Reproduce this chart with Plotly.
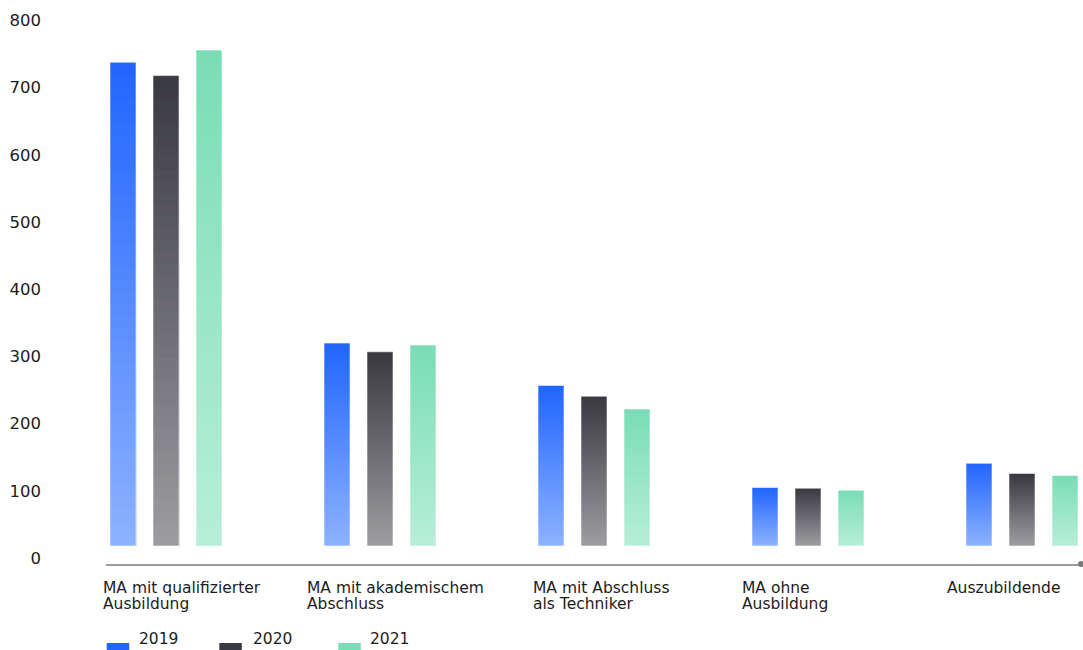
import plotly.graph_objects as go

# ---- data ----
categories = [
    "MA mit qualifizierter<br>Ausbildung",
    "MA mit akademischem<br>Abschluss",
    "MA mit Abschluss<br>als Techniker",
    "MA ohne<br>Ausbildung",
    "Auszubildende",
]
years = ["2019", "2020", "2021"]
values_2019 = [720, 302, 239, 87, 123]
values_2020 = [700, 289, 223, 86, 108]
values_2021 = [738, 299, 204, 83, 105]
y_ticks = [0, 100, 200, 300, 400, 500, 600, 700, 800]

# ---- style ----
FONT = "DejaVu Sans"
TEXT = "#1c1c1c"
top_colors = ["#2266FF", "#3A3A43", "#7ADDB6"]
bottom_colors = ["#8CB1FF", "#9C9BA0", "#B7EED9"]
N = 40                      # gradient steps per bar
px_per_cat = 214.0
bar_w = 26 / px_per_cat
bar_step = 43 / px_per_cat
first_off = -56 / px_per_cat
label_shift = [-63, -73, -61, -66, -75]


def hex2rgb(h):
    h = h.lstrip("#")
    return [int(h[i:i + 2], 16) for i in (0, 2, 4)]


def mix(c1, c2, t):
    a, b = hex2rgb(c1), hex2rgb(c2)
    return "rgb({},{},{})".format(*[round(a[i] + (b[i] - a[i]) * t) for i in range(3)])


series = [values_2019, values_2020, values_2021]
fig = go.Figure()
for j, (yr, vals) in enumerate(zip(years, series)):
    off = first_off + j * bar_step
    for k in range(N):
        frac = k / N
        col = mix(top_colors[j], bottom_colors[j], k / (N - 1))
        fig.add_bar(
            x=categories, y=[v * (1 - frac) for v in vals],
            offset=off, width=bar_w, name=yr,
            marker=dict(color=col, line=dict(width=0)),
            showlegend=False,
            hoverinfo="x+y+name" if k == 0 else "skip",
        )
    # subtle light outline
    fig.add_bar(
        x=categories, y=vals, offset=off, width=bar_w, name=yr,
        marker=dict(color="rgba(0,0,0,0)", line=dict(width=1, color="rgba(255,255,255,0.55)")),
        showlegend=False, hoverinfo="skip",
    )

annotations = []
for i, cat in enumerate(categories):
    for li, line in enumerate(cat.split("<br>")):
        annotations.append(dict(
            x=i, y=0, xref="x", yref="paper", text=line, showarrow=False,
            xanchor="left", yanchor="middle", xshift=label_shift[i] - 2,
            yshift=-23.5 - 16.5 * li,
            font=dict(family=FONT, size=15.5, color=TEXT),
        ))

shapes = []
legend_swatch_x = [0.7, 113.3, 232.3]
legend_text_x = [33.3, 146.7, 264]
for j, yr in enumerate(years):
    shapes.append(dict(
        type="rect", xref="paper", yref="paper", xsizemode="pixel", ysizemode="pixel",
        xanchor=0, yanchor=0, x0=legend_swatch_x[j], x1=legend_swatch_x[j] + 22.5,
        y0=-79, y1=-93, fillcolor=top_colors[j], line=dict(width=0),
    ))
    annotations.append(dict(
        x=0, y=0, xref="paper", yref="paper", text=yr, showarrow=False,
        xanchor="left", yanchor="middle", xshift=legend_text_x[j] - 2, yshift=-75,
        font=dict(family=FONT, size=15.5, color=TEXT),
    ))

# dot at end of axis line
shapes.append(dict(
    type="circle", xref="paper", yref="paper", xsizemode="pixel", ysizemode="pixel",
    xanchor=1, yanchor=0, x0=-3, x1=3, y0=-3, y1=3,
    fillcolor="#7a7a7a", line=dict(width=0),
))

fig.update_layout(
    width=1083, height=650,
    margin=dict(l=106, r=2, t=5, b=86),
    plot_bgcolor="white", paper_bgcolor="white",
    barmode="overlay",
    font=dict(family=FONT, color=TEXT),
    xaxis=dict(
        type="category", range=[-0.2804, 4.2757],
        showline=True, linecolor="#9b9b9b", linewidth=1.5,
        showticklabels=False, showgrid=False, zeroline=False, ticks="",
    ),
    yaxis=dict(
        range=[-26.8, 805.1], tickvals=y_ticks,
        showgrid=False, zeroline=False, showline=False, ticks="",
        tickfont=dict(family=FONT, size=16.5, color=TEXT),
        ticklabelstandoff=64, ticklabelshift=12,
    ),
    annotations=annotations, shapes=shapes,
    showlegend=False,
)

fig.write_html("out.html")
